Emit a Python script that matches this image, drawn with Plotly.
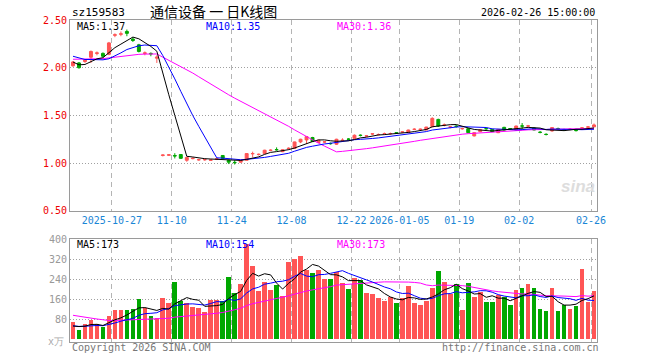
import numpy as np
import plotly.graph_objects as go

# ---------------- data ----------------
tick_index = [7, 17, 27, 37, 47, 55, 65, 75, 87]
tick_text = ["2025-10-27", "11-10", "11-24", "12-08", "12-22", "2026-01-05", "01-19", "02-02", "02-26"]

opens = [2.020, 2.050, 2.065, 2.110, 2.150, 2.150, 2.140, 2.340, 2.350, 2.380,
         2.300, 2.240, 2.150, 2.150, 2.100, 1.080, 1.083, 1.080, 1.090, 1.030,
         1.047, 1.034, 1.035, 1.030, 1.040, 1.080, 1.030, 1.008, 1.010, 1.030,
         1.098, 1.090, 1.100, 1.133, 1.142, 1.120, 1.152, 1.153, 1.222, 1.243,
         1.268, 1.216, 1.220, 1.207, 1.198, 1.235, 1.252, 1.260, 1.293, 1.284,
         1.305, 1.298, 1.308, 1.308, 1.318, 1.325, 1.319, 1.353, 1.353, 1.347,
         1.382, 1.458, 1.398, 1.377, 1.387, 1.360, 1.361, 1.285, 1.330, 1.362,
         1.354, 1.319, 1.375, 1.362, 1.347, 1.390, 1.388, 1.368, 1.324, 1.302,
         1.337, 1.362, 1.350, 1.353, 1.343, 1.367, 1.377, 1.380]
highs = [2.070, 2.060, 2.090, 2.180, 2.170, 2.160, 2.270, 2.360, 2.380, 2.400,
         2.320, 2.250, 2.170, 2.160, 2.130, 1.090, 1.095, 1.104, 1.095, 1.065,
         1.060, 1.045, 1.045, 1.040, 1.050, 1.085, 1.035, 1.030, 1.035, 1.105,
         1.120, 1.100, 1.140, 1.145, 1.165, 1.145, 1.165, 1.225, 1.255, 1.285,
         1.275, 1.245, 1.230, 1.215, 1.255, 1.260, 1.260, 1.300, 1.300, 1.295,
         1.315, 1.310, 1.320, 1.320, 1.325, 1.335, 1.350, 1.365, 1.362, 1.380,
         1.480, 1.465, 1.415, 1.390, 1.398, 1.372, 1.365, 1.322, 1.355, 1.372,
         1.358, 1.357, 1.380, 1.368, 1.392, 1.420, 1.400, 1.372, 1.335, 1.312,
         1.375, 1.372, 1.360, 1.365, 1.352, 1.378, 1.385, 1.415]
lows = [2.010, 1.990, 2.050, 2.050, 2.130, 2.110, 2.130, 2.320, 2.330, 2.330,
        2.270, 2.160, 2.130, 2.120, 2.050, 1.070, 1.075, 1.049, 1.045, 1.014,
        1.040, 1.025, 1.025, 1.022, 1.032, 1.045, 0.990, 0.985, 1.005, 1.025,
        1.060, 1.080, 1.095, 1.125, 1.130, 1.115, 1.140, 1.150, 1.210, 1.200,
        1.220, 1.210, 1.210, 1.195, 1.190, 1.230, 1.240, 1.255, 1.280, 1.275,
        1.295, 1.290, 1.300, 1.300, 1.305, 1.315, 1.315, 1.345, 1.345, 1.345,
        1.375, 1.380, 1.385, 1.365, 1.372, 1.350, 1.315, 1.280, 1.325, 1.350,
        1.328, 1.315, 1.345, 1.350, 1.340, 1.355, 1.378, 1.345, 1.312, 1.290,
        1.330, 1.352, 1.340, 1.345, 1.332, 1.358, 1.370, 1.378]
closes = [2.060, 2.000, 2.080, 2.170, 2.155, 2.120, 2.260, 2.345, 2.355, 2.360,
          2.285, 2.170, 2.155, 2.145, 2.110, 1.085, 1.087, 1.075, 1.050, 1.060,
          1.050, 1.036, 1.037, 1.032, 1.045, 1.050, 1.010, 1.005, 1.030, 1.100,
          1.100, 1.092, 1.135, 1.135, 1.140, 1.140, 1.155, 1.222, 1.250, 1.278,
          1.226, 1.240, 1.223, 1.204, 1.250, 1.240, 1.250, 1.292, 1.290, 1.286,
          1.307, 1.300, 1.310, 1.310, 1.315, 1.327, 1.347, 1.355, 1.355, 1.378,
          1.469, 1.389, 1.400, 1.379, 1.385, 1.362, 1.319, 1.319, 1.350, 1.360,
          1.330, 1.354, 1.347, 1.358, 1.389, 1.388, 1.390, 1.347, 1.322, 1.300,
          1.372, 1.360, 1.348, 1.355, 1.341, 1.369, 1.379, 1.400]
volumes = [69, 34, 58, 75, 58, 46, 90, 115, 115, 115,
           120, 158, 122, 90, 82, 162, 142, 229, 151, 145,
           127, 125, 106, 154, 157, 150, 246, 182, 218, 378,
           291, 191, 229, 195, 214, 171, 306, 319, 331, 274,
           263, 274, 239, 239, 269, 223, 199, 242, 237, 183,
           178, 163, 151, 167, 142, 162, 210, 142, 137, 151,
           202, 270, 226, 178, 220, 115, 222, 166, 186, 146,
           146, 174, 166, 134, 194, 202, 218, 202, 118, 112,
           205, 110, 134, 118, 130, 280, 146, 190]

# sessions before the visible window (only feed the moving averages)
prev_closes = [2.02, 2.05, 2.08, 2.10, 2.07, 2.04, 2.06, 2.09, 2.11, 2.08,
               2.05, 2.07, 2.10, 2.12, 2.09, 2.06, 2.08, 2.07, 2.05, 2.06,
               2.20, 2.22, 2.17, 2.16, 2.15, 2.15, 2.06, 2.02, 2.01]
prev_volumes = [170, 160, 175, 165, 155, 165, 110, 95, 100, 85,
                90, 105, 95, 80, 100, 90, 95, 85, 100, 100,
                60, 50, 55, 48, 57, 45, 50, 42, 54]

price_ticks = [0.5, 1.0, 1.5, 2.0, 2.5]
vol_ticks = [80, 160, 240, 320, 400]

# ---------------- derived ----------------
N = len(closes)
xs = list(range(N))


def moving_avg(prev, vals, n):
    arr = np.array(prev + vals, dtype=float)
    out = np.convolve(arr, np.ones(n) / n, mode="valid")
    return out[-len(vals):]


ma5 = moving_avg(prev_closes, closes, 5)
ma10 = moving_avg(prev_closes, closes, 10)
ma30 = moving_avg(prev_closes, closes, 30)
vma5 = moving_avg(prev_volumes, volumes, 5)
vma10 = moving_avg(prev_volumes, volumes, 10)
vma30 = moving_avg(prev_volumes, volumes, 30)

RED = "#ff5555"
GREEN = "#00a800"
vol_colors = [RED if c >= o else GREEN for o, c in zip(opens, closes)]

MONO = "DejaVu Sans Mono, monospace"

fig = go.Figure()

fig.add_trace(go.Candlestick(
    x=xs, open=opens, high=highs, low=lows, close=closes,
    increasing=dict(line=dict(color=RED, width=1), fillcolor=RED),
    decreasing=dict(line=dict(color=GREEN, width=1), fillcolor=GREEN),
    whiskerwidth=0, xaxis="x", yaxis="y", showlegend=False, hoverinfo="skip"))

for vals, col in [(ma30, "#ff00ff"), (ma10, "#0000ff"), (ma5, "#000000")]:
    fig.add_trace(go.Scatter(x=xs, y=vals, mode="lines", line=dict(color=col, width=1),
                             xaxis="x", yaxis="y", showlegend=False, hoverinfo="skip"))

fig.add_trace(go.Bar(x=xs, y=volumes, marker=dict(color=vol_colors, line=dict(width=0)),
                     width=0.78, xaxis="x2", yaxis="y2", showlegend=False, hoverinfo="skip"))

for vals, col in [(vma30, "#ff00ff"), (vma10, "#0000ff"), (vma5, "#000000")]:
    fig.add_trace(go.Scatter(x=xs, y=vals, mode="lines", line=dict(color=col, width=1),
                             xaxis="x2", yaxis="y2", showlegend=False, hoverinfo="skip"))

# ---------------- layout ----------------
W, H = 660, 360
L, R, T, B = 70, 63, 20, 16
pw, ph = W - L - R, H - T - B


def px(x):
    return (x - L) / pw


def py(y):
    return (H - B - y) / ph


grid_x = [i - 0.5 for i in tick_index]

axis_common = dict(showline=True, linecolor="#9a9a9a", linewidth=1, mirror=True,
                   zeroline=False, ticks="", fixedrange=True)

fig.update_layout(
    width=W, height=H, margin=dict(l=L, r=R, t=T, b=B),
    paper_bgcolor="white", plot_bgcolor="white",
    showlegend=False, bargap=0, boxgap=0.3,
    xaxis=dict(domain=[0, 1], range=[-0.5, N - 0.5], anchor="y",
               tickmode="array", tickvals=grid_x, ticktext=tick_text,
               tickfont=dict(family=MONO, size=10, color="#1a86d6"),
               showgrid=True, gridcolor="#b4b4b4", griddash="5px,4px", gridwidth=1,
               rangeslider=dict(visible=False), **axis_common),
    yaxis=dict(domain=[py(212), 1], range=[0.5, 2.5], anchor="x",
               tickmode="array", tickvals=price_ticks,
               ticktext=["%.2f" % v for v in price_ticks],
               tickfont=dict(family=MONO, size=10, color="#ee0000"),
               showgrid=True, gridcolor="#a0a0a0", griddash="1px,2px", gridwidth=1,
               **axis_common),
    xaxis2=dict(domain=[0, 1], range=[-0.5, N - 0.5], anchor="y2",
                tickmode="array", tickvals=grid_x, showticklabels=False,
                showgrid=True, gridcolor="#b4b4b4", griddash="5px,4px", gridwidth=1,
                **axis_common),
    yaxis2=dict(domain=[0, py(240.5)], range=[-12, 400], anchor="x2",
                tickmode="array", tickvals=vol_ticks, ticktext=[str(v) for v in vol_ticks],
                tickfont=dict(family=MONO, size=10, color="#999999"),
                showgrid=True, gridcolor="#a0a0a0", griddash="1px,2px", gridwidth=1,
                **axis_common),
)


def ann(text, x, y, color="#000000", size=10, xanchor="left", family=MONO, **kw):
    fig.add_annotation(text=text, x=px(x), y=py(y), xref="paper", yref="paper",
                       xanchor=xanchor, yanchor="middle", showarrow=False,
                       font=dict(family=family, size=size, color=color), **kw)


ann("sz159583", 70, 12, size=11)
ann("通信设备 一 日K线图", 213.5, 11, size=14, xanchor="center",
    family="Noto Sans CJK SC, sans-serif", borderpad=0)
ann("2026-02-26 15:00:00", 597, 12, xanchor="right", size=10)

ann("MA5:%.2f" % ma5[-1], 75, 27)
ann("MA10:%.2f" % ma10[-1], 204, 27, color="#0000ff")
ann("MA30:%.2f" % ma30[-1], 334.5, 27, color="#ff00ff")

ann("MA5:%d" % round(vma5[-1]), 75, 246)
ann("MA10:%d" % round(vma10[-1]), 204, 246, color="#0000ff")
ann("MA30:%d" % round(vma30[-1]), 334.5, 246, color="#ff00ff")

ann("x万", 66, 343, color="#aaaaaa", xanchor="right")
ann("Copyright 2026 SINA.COM", 70, 350, color="#777777")
ann("http://finance.sina.com.cn", 601, 350, color="#777777", xanchor="right")
ann("<i><b>sina</b></i>", 597, 188, color="#dddddd", size=17, xanchor="right",
    family="Arial, sans-serif")

fig.write_html("out.html", config={"displayModeBar": False},
               post_script="document.body.style.margin='0';document.body.style.overflow='hidden';")
